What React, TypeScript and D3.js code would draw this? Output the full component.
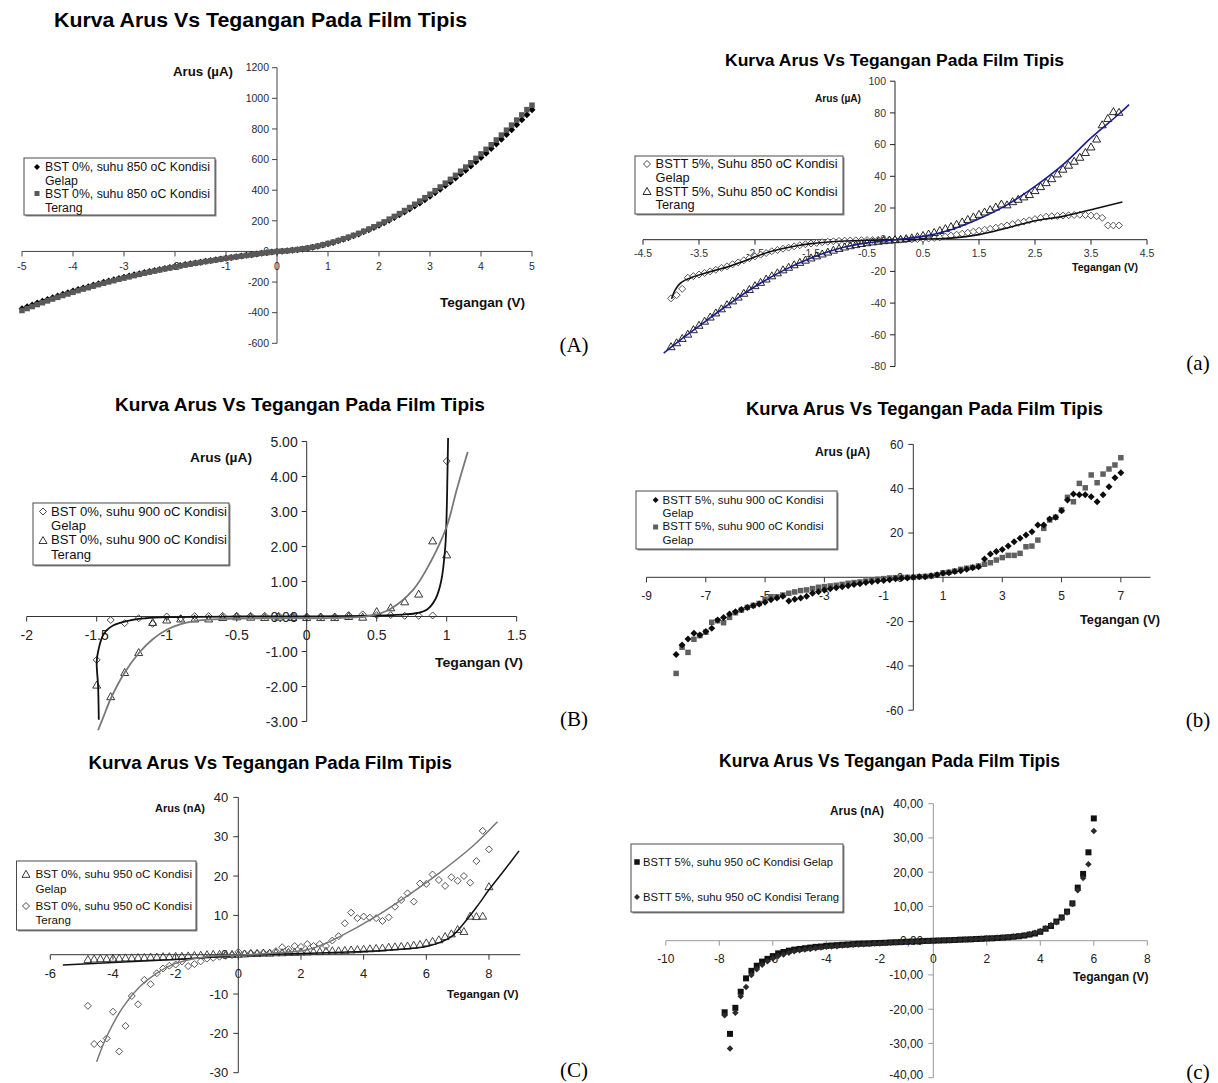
import React from "react";
import * as d3 from "d3";

const SANS = "'Liberation Sans', Arial, Helvetica, sans-serif";
const SERIF = "'Liberation Serif', 'Times New Roman', Times, serif";
const TITLE = "Kurva Arus Vs Tegangan Pada Film Tipis";

// ---------------- Panel A : BST 0%, 850 oC ----------------
const A_V = [-5,-4.9,-4.8,-4.7,-4.6,-4.5,-4.4,-4.3,-4.2,-4.1,-4,-3.9,-3.8,-3.7,-3.6,-3.5,-3.4,-3.3,-3.2,-3.1,-3,-2.9,-2.8,-2.7,-2.6,-2.5,-2.4,-2.3,-2.2,-2.1,-2,-1.9,-1.8,-1.7,-1.6,-1.5,-1.4,-1.3,-1.2,-1.1,-1,-0.9,-0.8,-0.7,-0.6,-0.5,-0.4,-0.3,-0.2,-0.1,0,0.1,0.2,0.3,0.4,0.5,0.6,0.7,0.8,0.9,1,1.1,1.2,1.3,1.4,1.5,1.6,1.7,1.8,1.9,2,2.1,2.2,2.3,2.4,2.5,2.6,2.7,2.8,2.9,3,3.1,3.2,3.3,3.4,3.5,3.6,3.7,3.8,3.9,4,4.1,4.2,4.3,4.4,4.5,4.6,4.7,4.8,4.9,5];
const A_GELAP = [-375,-362,-350,-337,-325,-314,-302,-291,-280,-270,-259,-249,-239,-230,-220,-211,-202,-193,-185,-177,-169,-161,-153,-146,-138,-131,-124,-118,-111,-105,-98,-92,-86,-81,-75,-70,-64,-59,-54,-49,-44,-39,-34,-30,-25,-21,-17,-12,-8,-4,0,2,4,7,11,16,21,27,34,42,50,59,69,79,90,102,114,128,141,156,171,187,204,221,239,258,277,297,317,338,360,383,406,430,454,479,505,531,558,586,614,642,672,702,732,763,795,827,860,893,925];
const A_TERANG = [-386,-373,-360,-347,-335,-323,-311,-300,-288,-278,-267,-256,-246,-237,-227,-217,-208,-199,-191,-182,-174,-166,-158,-150,-142,-135,-128,-121,-114,-108,-101,-95,-89,-83,-77,-72,-66,-61,-56,-50,-45,-40,-35,-31,-26,-22,-17,-12,-8,-4,0,2,4,8,12,17,22,28,35,43,52,61,71,82,93,105,118,132,146,161,177,193,211,229,247,267,287,308,329,351,374,397,421,446,471,497,524,551,579,608,637,667,697,728,760,792,825,858,892,926,955];
const A_XTICKS = [-5,-4,-3,-2,-1,0,1,2,3,4,5];
const A_YTICKS = [-600,-400,-200,0,200,400,600,800,1000,1200];

// ---------------- Panel a : BSTT 5%, 850 oC ----------------
const a_V = [-4,-3.9,-3.8,-3.7,-3.6,-3.5,-3.4,-3.3,-3.2,-3.1,-3,-2.9,-2.8,-2.7,-2.6,-2.5,-2.4,-2.3,-2.2,-2.1,-2,-1.9,-1.8,-1.7,-1.6,-1.5,-1.4,-1.3,-1.2,-1.1,-1,-0.9,-0.8,-0.7,-0.6,-0.5,-0.4,-0.3,-0.2,-0.1,0,0.1,0.2,0.3,0.4,0.5,0.6,0.7,0.8,0.9,1,1.1,1.2,1.3,1.4,1.5,1.6,1.7,1.8,1.9,2,2.1,2.2,2.3,2.4,2.5,2.6,2.7,2.8,2.9,3,3.1,3.2,3.3,3.4,3.5,3.6,3.7,3.8,3.9,4];
const a_GELAP = [-37,-35,-31,-24,-23,-22,-21,-20,-19,-17.8,-16.8,-15.5,-14.3,-13,-11.7,-10.5,-9.4,-8.4,-7.3,-6.5,-5.7,-5,-4.2,-3.5,-2.9,-2.4,-2,-1.6,-1.3,-1,-0.8,-0.6,-0.5,-0.4,-0.3,-0.2,-0.2,-0.1,-0.1,0,0,0,0.1,0.2,0.4,0.6,0.8,1.1,1.5,2,2.6,3.2,3.8,4.4,5.1,5.7,6.3,6.9,7.6,8.3,9,9.8,10.6,11.4,12.2,13,13.8,14.5,14.8,15,15.2,15.4,15.6,15.8,15.6,15.2,14.8,13.8,9,9,9];
const a_TERANG = [-67.5,-65,-62.3,-59.6,-56.8,-54,-51.4,-48.8,-46.2,-43.6,-41,-38.6,-36.2,-33.8,-31.4,-29,-26.9,-24.8,-22.8,-20.9,-19,-17.4,-15.8,-14.3,-12.9,-11.5,-10.2,-9,-7.8,-6.6,-5.5,-4.6,-3.8,-3.1,-2.4,-1.9,-1.4,-1,-0.6,-0.3,0,0.3,0.7,1.2,1.9,2.7,3.6,4.6,5.8,7,8.3,9.7,11.2,12.8,14.4,16,17.5,19,20.6,22.5,22,24,25.5,27,28.5,31,33.5,36,38.5,41.5,44.5,47,49.5,52,55,58.5,63.5,72.5,76.5,80.8,80.4];
const a_FIT_G_X = [-3.99,-3.93,-3.85,-3.75,-3.6,-3.4,-3.2,-3,-2.75,-2.5,-2.25,-2,-1.75,-1.5,-1.25,-1,-0.5,0,0.5,1,1.5,2,2.5,3,3.5,4.06];
const a_FIT_G_Y = [-37.2,-32,-28,-25.5,-23.3,-21.2,-19.2,-17.3,-14.2,-10.8,-7.8,-5.6,-3.8,-2.5,-1.6,-1,-0.3,0,0.3,1,3.2,7.4,12,14.7,18.9,23.8];
const a_FIT_T_X = [-4.13,-3.75,-3.5,-3,-2.5,-2,-1.5,-1,-0.5,0,0.5,1,1.5,2,2.5,3,3.5,4,4.18];
const a_FIT_T_Y = [-71.5,-61,-54.5,-41.5,-29.5,-19.5,-11.5,-5.5,-2,0,2.1,6.3,13.2,22,33.6,47.3,64.2,79.3,85.2];
const a_XTICKS = [-4.5,-3.5,-2.5,-1.5,-0.5,0.5,1.5,2.5,3.5,4.5];
const a_YTICKS = [-80,-60,-40,-20,0,20,40,60,80,100];

// ---------------- Panel B : BST 0%, 900 oC ----------------
const B_V = [-1.5,-1.4,-1.3,-1.2,-1.1,-1,-0.9,-0.8,-0.7,-0.6,-0.5,-0.4,-0.3,-0.2,-0.1,0,0.1,0.2,0.3,0.4,0.5,0.6,0.7,0.8,0.9,1];
const B_GELAP = [-1.24,-0.1,-0.19,-0.05,-0.21,0,-0.05,0.01,0.01,0.02,0.02,0.02,0.02,0.02,0.02,0,0,0,0.04,0.06,0.04,0.04,0.02,0.02,0.03,4.44];
const B_TERANG = [-1.96,-2.29,-1.6,-1.03,-0.17,-0.1,-0.07,-0.07,-0.07,-0.03,-0.01,-0.02,-0.03,-0.02,-0.03,-0.03,-0.03,-0.03,0,-0.02,0.14,0.25,0.42,0.64,2.16,1.76];
const B_FIT_G_X = [-1.485,-1.49,-1.5,-1.49,-1.45,-1.38,-1.25,-1.15,-1,-0.5,0,0.4,0.6,0.7,0.79,0.86,0.92,0.96,0.99,1,1.005,1.01];
const B_FIT_G_Y = [-2.95,-2,-1.3,-1,-0.5,-0.25,-0.1,-0.05,-0.02,0,0,0.02,0.04,0.06,0.1,0.2,0.5,1,2,3,4,5.1];
const B_FIT_T_X = [-1.49,-1.45,-1.4,-1.3,-1.2,-1.1,-1,-0.9,-0.8,-0.6,-0.3,0,0.2,0.4,0.5,0.6,0.76,0.88,1,1.07,1.15];
const B_FIT_T_Y = [-3.25,-2.85,-2.35,-1.6,-1.05,-0.65,-0.38,-0.22,-0.13,-0.07,-0.05,-0.05,-0.04,-0.01,0.06,0.22,0.76,1.52,2.57,3.6,4.7];
const B_XTICKS = [-2,-1.5,-1,-0.5,0,0.5,1,1.5];
const B_YTICKS = [-3,-2,-1,0,1,2,3,4,5];

// ---------------- Panel b : BSTT 5%, 900 oC ----------------
const b_V = [-8,-7.8,-7.6,-7.4,-7.2,-7,-6.8,-6.6,-6.4,-6.2,-6,-5.8,-5.6,-5.4,-5.2,-5,-4.8,-4.6,-4.4,-4.2,-4,-3.8,-3.6,-3.4,-3.2,-3,-2.8,-2.6,-2.4,-2.2,-2,-1.8,-1.6,-1.4,-1.2,-1,-0.8,-0.6,-0.4,-0.2,0,0.2,0.4,0.6,0.8,1,1.2,1.4,1.6,1.8,2,2.2,2.4,2.6,2.8,3,3.2,3.4,3.6,3.8,4,4.2,4.4,4.6,4.8,5,5.2,5.4,5.6,5.8,6,6.2,6.4,6.6,6.8,7];
const b_GELAP1 = [-34.8,-30.6,-27.9,-25.3,-26,-24.5,-23,-19.3,-18.1,-16.6,-15.5,-14.5,-13.6,-12.8,-12,-11.3,-10.1,-9.3,-8.6,-10.7,-9.9,-9.3,-8.5,-7.2,-6.5,-5.7,-5.2,-4.7,-4.3,-3.8,-3.2,-2.9,-2.4,-2,-1.7,-1.4,-1.1,-0.7,-0.4,-0.3,0,0.2,0.3,0.7,1.1,1.8,2.1,2.6,3,3.6,4.3,4.8,8.3,10.5,11.7,12.6,14.1,16.1,17.6,19.1,20.6,23.6,23.6,26.3,27.1,30.1,34.9,37.6,37.3,37.3,36.4,34.1,37.3,40.9,45,47.2];
const b_GELAP2 = [-43.4,-31.6,-33.9,-28,-26.3,-24.8,-20.3,-19.6,-20.5,-18.1,-16,-14.8,-13.6,-12.7,-11.8,-9.9,-8.8,-8.8,-8,-7.2,-6.6,-6,-5.7,-5.1,-4.5,-4.2,-3.9,-3.6,-3.2,-2.7,-2.4,-2.1,-1.7,-1.2,-0.9,-0.6,-0.3,-0.2,-0.1,0,0,0.3,0.4,0.6,1.1,2,2.3,2.8,3.6,4.1,4.5,5.1,5.9,6.6,7.8,8.9,9.9,9.9,10.8,13.8,14.1,16.8,22.1,25.9,27.1,30.4,36.1,34.1,42.4,40.4,46.2,42.7,46.6,48.9,50.7,54];
const b_XTICKS = [-9,-7,-5,-3,-1,1,3,5,7];
const b_YTICKS = [-60,-40,-20,0,20,40,60];

// ---------------- Panel C : BST 0%, 950 oC ----------------
const C_V = [-4.8,-4.6,-4.4,-4.2,-4,-3.8,-3.6,-3.4,-3.2,-3,-2.8,-2.6,-2.4,-2.2,-2,-1.8,-1.6,-1.4,-1.2,-1,-0.8,-0.6,-0.4,-0.2,0,0.2,0.4,0.6,0.8,1,1.2,1.4,1.6,1.8,2,2.2,2.4,2.6,2.8,3,3.2,3.4,3.6,3.8,4,4.2,4.4,4.6,4.8,5,5.2,5.4,5.6,5.8,6,6.2,6.4,6.6,6.8,7,7.2,7.4,7.6,7.8,8];
const C_GELAP = [-1.2,-1.1,-1,-1,-0.9,-0.9,-0.8,-0.8,-0.7,-0.7,-0.6,-0.6,-0.5,-0.5,-0.4,-0.4,-0.3,-0.2,-0.1,0,0.1,0.1,0.1,0.1,0.1,0.2,0.3,0.3,0.4,0.4,0.5,0.5,0.6,0.6,0.7,0.7,0.8,0.8,0.9,1,1,1.1,1.2,1.3,1.4,1.5,1.6,1.7,1.9,2,2.1,2.2,2.4,2.6,3,3.4,3.8,4.6,5.3,6.4,5.9,9.8,9.7,9.8,17.3];
const C_TERANG = [-13,-22.7,-22.7,-21.3,-14.5,-24.6,-18.1,-10.5,-12.6,-6.4,-7.5,-4.7,-3.5,-2.8,-2.5,-1.7,-2.9,-2.4,-1.7,-1,-0.8,-0.5,-0.3,-0.1,0.7,0.3,0.4,0.4,0.5,0.5,0.9,1.9,1.4,2.2,2,2.7,2.2,2.7,2.2,3.6,4.7,8,10.7,9.3,9.7,9.4,9.3,8.6,9.5,12.2,13.9,15.6,13.5,18.1,18,20.4,19,17.5,19.7,18.8,20,18.3,23.8,31.5,26.8];
const C_FIT_G_X = [-5.6,-4,-2,0,2,3.24,4.5,5.36,6,6.4,6.8,7.2,7.65,8,8.5,8.96];
const C_FIT_G_Y = [-2.6,-2,-1.2,-0.2,0.3,0.6,1,1.5,2.1,3,4.6,8,12.6,16.5,21.6,26.4];
const C_FIT_T_X = [-4.52,-4.2,-3.67,-3.14,-2.6,-2.07,-1.54,-1,0,1.1,2.17,2.7,3.24,4.3,5.36,6.4,7.47,8.27];
const C_FIT_T_Y = [-27.2,-20.8,-13.2,-8.1,-4.7,-2.4,-1.2,-0.5,-0.1,0.4,1.2,2.6,4.6,9.3,14.8,20.7,27.5,33.8];
const C_XTICKS = [-6,-4,-2,0,2,4,6,8];
const C_YTICKS = [-30,-20,-10,0,10,20,30,40];

// ---------------- Panel c : BSTT 5%, 950 oC ----------------
const c_V = [-7.8,-7.6,-7.4,-7.2,-7,-6.8,-6.6,-6.4,-6.2,-6,-5.8,-5.6,-5.4,-5.2,-5,-4.8,-4.6,-4.4,-4.2,-4,-3.8,-3.6,-3.4,-3.2,-3,-2.8,-2.6,-2.4,-2.2,-2,-1.8,-1.6,-1.4,-1.2,-1,-0.8,-0.6,-0.4,-0.2,0,0.2,0.4,0.6,0.8,1,1.2,1.4,1.6,1.8,2,2.2,2.4,2.6,2.8,3,3.2,3.4,3.6,3.8,4,4.2,4.4,4.6,4.8,5,5.2,5.4,5.6,5.8,6];
const c_GELAP = [-20.9,-27.2,-19.6,-14.9,-11,-8.8,-7.3,-6.1,-5.3,-4.5,-3.7,-3.3,-2.9,-2.6,-2.4,-2.2,-2,-1.8,-1.7,-1.5,-1.4,-1.3,-1.2,-1.1,-1,-0.9,-0.85,-0.8,-0.7,-0.65,-0.6,-0.5,-0.45,-0.4,-0.3,-0.25,-0.2,-0.1,-0.05,0,0.05,0.1,0.15,0.2,0.3,0.35,0.4,0.5,0.55,0.65,0.7,0.8,0.9,1,1.15,1.3,1.5,1.8,2.1,2.6,3.5,4.3,5.6,6.8,8.5,10.9,15.5,19.5,25.8,35.7];
const c_TERANG = [-21.8,-31.5,-21,-16.2,-13.5,-10,-8.3,-7,-6,-5.2,-4.5,-4,-3.5,-3.1,-2.8,-2.6,-2.4,-2.2,-2,-1.8,-1.7,-1.6,-1.4,-1.3,-1.2,-1.1,-1,-0.95,-0.85,-0.8,-0.7,-0.6,-0.55,-0.45,-0.4,-0.3,-0.25,-0.15,-0.1,0,0.05,0.1,0.15,0.2,0.3,0.35,0.45,0.5,0.6,0.7,0.75,0.85,0.95,1.05,1.2,1.4,1.6,1.9,2.3,2.8,3.6,4.6,5.4,6.6,8.2,10.7,14.7,18.3,22.3,32];
const c_XTICKS = [-10,-8,-6,-4,-2,0,2,4,6,8];
const c_YTICKS = [-40,-30,-20,-10,0,10,20,30,40];

// ---------------- types & helpers ----------------
type Marker = "diamond" | "square" | "triangle";
type Series = { xs: number[]; ys: number[]; marker: Marker; size: number; fill: string; stroke: string; sw: number };
type Curve = { xs: number[]; ys: number[]; color: string; width: number };
type LegendItem = { marker: Marker; size: number; fill: string; stroke: string; sw: number; lines: string[]; baselines: number[]; my: number; tw: number };
type TextSpec = { text: string; x0: number; w: number; base: number; size: number };
type PanelSpec = {
  xDomain: [number, number]; xRange: [number, number];
  yDomain: [number, number]; yRange: [number, number];
  xTicks: number[]; yTicks: number[];
  xFmt: (v: number) => string; yFmt: (v: number) => string;
  tickFont: number; tickColor: string; axisColor: string; tickLen: number;
  xLabelDy: number; yLabelDx: number;
  title: TextSpec; yTitle: TextSpec; xTitle: TextSpec;
  legend: { x0: number; y0: number; x1: number; y1: number; textX: number; markerX: number; font: number; items: LegendItem[] };
  tag: { text: string; cx: number; base: number; size: number };
  series: Series[]; curves: Curve[];
};

function markerPath(m: Marker, s: number): string {
  const r = s / 2;
  if (m === "diamond") return `M0,${-r}L${r},0L0,${r}L${-r},0Z`;
  if (m === "square") return `M${-r},${-r}H${r}V${r}H${-r}Z`;
  return `M0,${-r}L${r},${r * 0.75}L${-r},${r * 0.75}Z`;
}

const plain = (v: number) => String(v);
const fix1 = (v: number) => v.toFixed(1);
const fix2 = (v: number) => v.toFixed(2);
const fix2c = (v: number) => v.toFixed(2).replace(".", ",");

function ChartPanel({ p }: { p: PanelSpec }) {
  const x = d3.scaleLinear().domain(p.xDomain).range(p.xRange);
  const y = d3.scaleLinear().domain(p.yDomain).range(p.yRange);
  const x0 = x(0);
  const y0 = y(0);
  const line = d3
    .line<[number, number]>()
    .x((d) => x(d[0]))
    .y((d) => y(d[1]))
    .curve(d3.curveCatmullRom.alpha(0.5));
  const lg = p.legend;
  return (
    <g fontFamily={SANS}>
      <text x={p.title.x0} y={p.title.base} fontSize={p.title.size} fontWeight="bold" textLength={p.title.w} lengthAdjust="spacingAndGlyphs" fill="#000">
        {p.title.text}
      </text>
      {/* axes */}
      <line x1={x(p.xDomain[0])} x2={x(p.xDomain[1])} y1={y0} y2={y0} stroke={p.axisColor} strokeWidth={1} />
      <line x1={x0} x2={x0} y1={y(p.yDomain[0])} y2={y(p.yDomain[1])} stroke={p.axisColor} strokeWidth={1} />
      {p.xTicks.map((v) => (
        <g key={"xt" + v}>
          <line x1={x(v)} x2={x(v)} y1={y0} y2={y0 + p.tickLen} stroke={p.axisColor} strokeWidth={1} />
          <text x={x(v)} y={y0 + p.xLabelDy} fontSize={p.tickFont} textAnchor="middle" fill={p.tickColor}>
            {p.xFmt(v)}
          </text>
        </g>
      ))}
      {p.yTicks.map((v) => (
        <g key={"yt" + v}>
          <line x1={x0 - p.tickLen} x2={x0} y1={y(v)} y2={y(v)} stroke={p.axisColor} strokeWidth={1} />
          <text x={x0 + p.yLabelDx} y={Math.min(y(v) + p.tickFont * 0.36, 1078.5)} fontSize={p.tickFont} textAnchor="end" fill={p.tickColor}>
            {p.yFmt(v)}
          </text>
        </g>
      ))}
      {/* axis titles */}
      {[p.yTitle, p.xTitle].map((t) => (
        <text key={t.text} x={t.x0} y={t.base} fontSize={t.size} fontWeight="bold" textLength={t.w} lengthAdjust="spacingAndGlyphs" fill="#111">
          {t.text}
        </text>
      ))}
      {/* markers */}
      {p.series.map((s, si) => (
        <g key={"s" + si}>
          {s.xs.slice(0, Math.min(s.xs.length, s.ys.length)).map((v, i) => (
            <path
              key={i}
              d={markerPath(s.marker, s.size)}
              transform={`translate(${x(v)},${y(s.ys[i])})`}
              fill={s.fill}
              stroke={s.stroke}
              strokeWidth={s.sw}
            />
          ))}
        </g>
      ))}
      {/* fitted curves */}
      {p.curves.map((c, ci) => (
        <path
          key={"c" + ci}
          d={line(c.xs.map((v, i) => [v, c.ys[i]] as [number, number])) || ""}
          fill="none"
          stroke={c.color}
          strokeWidth={c.width}
        />
      ))}
      {/* legend */}
      <rect x={lg.x0 + 1.5} y={lg.y0 + 1.5} width={lg.x1 - lg.x0} height={lg.y1 - lg.y0} fill="#8a8a8a" />
      <rect x={lg.x0} y={lg.y0} width={lg.x1 - lg.x0} height={lg.y1 - lg.y0} fill="#fff" stroke="#4a4a4a" strokeWidth={1} />
      {lg.items.map((it, ii) => (
        <g key={"l" + ii}>
          <path d={markerPath(it.marker, it.size)} transform={`translate(${lg.markerX},${it.my})`} fill={it.fill} stroke={it.stroke} strokeWidth={it.sw} />
          {it.lines.map((ln, li) =>
            li === 0 ? (
              <text key={li} x={lg.textX} y={it.baselines[li]} fontSize={lg.font} textLength={it.tw} lengthAdjust="spacingAndGlyphs" fill="#111">
                {ln}
              </text>
            ) : (
              <text key={li} x={lg.textX} y={it.baselines[li]} fontSize={lg.font} fill="#111">
                {ln}
              </text>
            )
          )}
        </g>
      ))}
      <text x={p.tag.cx} y={p.tag.base} fontSize={p.tag.size} fontFamily={SERIF} textAnchor="middle" fill="#000">
        {p.tag.text}
      </text>
    </g>
  );
}

// ---------------- panel specs ----------------
const panelA: PanelSpec = {
  xDomain: [-5, 5], xRange: [22, 532],
  yDomain: [-600, 1200], yRange: [343.3, 67.7],
  xTicks: A_XTICKS, yTicks: A_YTICKS, xFmt: plain, yFmt: plain,
  tickFont: 10.5, tickColor: "#2a2a2a", axisColor: "#444", tickLen: 5,
  xLabelDy: 18.5, yLabelDx: -8,
  title: { text: TITLE, x0: 54, w: 413, base: 27, size: 20 },
  yTitle: { text: "Arus (µA)", x0: 173, w: 60, base: 76, size: 12 },
  xTitle: { text: "Tegangan (V)", x0: 440, w: 85, base: 307, size: 12 },
  legend: {
    x0: 24, y0: 158, x1: 215, y1: 215, textX: 45, markerX: 37, font: 12.3,
    items: [
      { marker: "diamond", size: 6, fill: "#000", stroke: "none", sw: 0, lines: ["BST 0%, suhu 850 oC Kondisi", "Gelap"], baselines: [171, 185], my: 167, tw: 165 },
      { marker: "square", size: 5, fill: "#595959", stroke: "none", sw: 0, lines: ["BST 0%, suhu 850 oC Kondisi", "Terang"], baselines: [198, 212], my: 193.5, tw: 165 },
    ],
  },
  tag: { text: "(A)", cx: 574, base: 352, size: 21 },
  series: [
    { xs: A_V, ys: A_GELAP, marker: "diamond", size: 7, fill: "#000", stroke: "none", sw: 0 },
    { xs: A_V, ys: A_TERANG, marker: "square", size: 5.5, fill: "#595959", stroke: "none", sw: 0 },
  ],
  curves: [],
};

const panela: PanelSpec = {
  xDomain: [-4.5, 4.5], xRange: [643, 1147],
  yDomain: [-80, 100], yRange: [366.5, 81.2],
  xTicks: a_XTICKS, yTicks: a_YTICKS, xFmt: fix1, yFmt: plain,
  tickFont: 10.5, tickColor: "#333", axisColor: "#222", tickLen: 5,
  xLabelDy: 17, yLabelDx: -9,
  title: { text: TITLE, x0: 725, w: 339, base: 65.5, size: 16 },
  yTitle: { text: "Arus (µA)", x0: 815, w: 46, base: 101.5, size: 10 },
  xTitle: { text: "Tegangan (V)", x0: 1072, w: 66, base: 271, size: 10 },
  legend: {
    x0: 635, y0: 156, x1: 843, y1: 214, textX: 655.6, markerX: 647, font: 12.8,
    items: [
      { marker: "diamond", size: 7, fill: "#fff", stroke: "#333", sw: 0.9, lines: ["BSTT 5%, Suhu 850 oC Kondisi", "Gelap"], baselines: [168, 181.5], my: 164, tw: 182 },
      { marker: "triangle", size: 8, fill: "#fff", stroke: "#111", sw: 0.9, lines: ["BSTT 5%, Suhu 850 oC Kondisi", "Terang"], baselines: [195.5, 209], my: 191.5, tw: 182 },
    ],
  },
  tag: { text: "(a)", cx: 1198, base: 370, size: 21 },
  series: [
    { xs: a_V, ys: a_GELAP, marker: "diamond", size: 7, fill: "#fff", stroke: "#444", sw: 0.9 },
    { xs: a_V, ys: a_TERANG, marker: "triangle", size: 8, fill: "none", stroke: "#111", sw: 0.9 },
  ],
  curves: [
    { xs: a_FIT_G_X, ys: a_FIT_G_Y, color: "#111", width: 1.6 },
    { xs: a_FIT_T_X, ys: a_FIT_T_Y, color: "#1c1c8c", width: 1.6 },
  ],
};

const panelB: PanelSpec = {
  xDomain: [-2, 1.5], xRange: [26.7, 516.7],
  yDomain: [-3, 5], yRange: [721.5, 441.5],
  xTicks: B_XTICKS, yTicks: B_YTICKS, xFmt: plain, yFmt: fix2,
  tickFont: 14, tickColor: "#222", axisColor: "#333", tickLen: 5,
  xLabelDy: 23.5, yLabelDx: -9,
  title: { text: TITLE, x0: 115, w: 370, base: 411, size: 18 },
  yTitle: { text: "Arus (µA)", x0: 190, w: 62, base: 462, size: 13 },
  xTitle: { text: "Tegangan (V)", x0: 435, w: 88, base: 667, size: 13 },
  legend: {
    x0: 33, y0: 503, x1: 229, y1: 565, textX: 51, markerX: 43, font: 13.1,
    items: [
      { marker: "diamond", size: 7, fill: "#fff", stroke: "#333", sw: 0.9, lines: ["BST 0%, suhu 900 oC Kondisi", "Gelap"], baselines: [515.5, 530], my: 511.5, tw: 176 },
      { marker: "triangle", size: 8, fill: "#fff", stroke: "#222", sw: 0.9, lines: ["BST 0%, suhu 900 oC Kondisi", "Terang"], baselines: [544, 559], my: 540.5, tw: 176 },
    ],
  },
  tag: { text: "(B)", cx: 574, base: 726, size: 21 },
  series: [
    { xs: B_V, ys: B_GELAP, marker: "diamond", size: 7, fill: "none", stroke: "#333", sw: 0.9 },
    { xs: B_V, ys: B_TERANG, marker: "triangle", size: 8, fill: "none", stroke: "#222", sw: 0.9 },
  ],
  curves: [
    { xs: B_FIT_G_X, ys: B_FIT_G_Y, color: "#111", width: 1.8 },
    { xs: B_FIT_T_X, ys: B_FIT_T_Y, color: "#787878", width: 1.8 },
  ],
};

const panelb: PanelSpec = {
  xDomain: [-9, 8], xRange: [646.5, 1150.5],
  yDomain: [-60, 60], yRange: [710.2, 444.4],
  xTicks: b_XTICKS, yTicks: b_YTICKS, xFmt: plain, yFmt: plain,
  tickFont: 12, tickColor: "#222", axisColor: "#333", tickLen: 5,
  xLabelDy: 22.5, yLabelDx: -10,
  title: { text: TITLE, x0: 746, w: 357, base: 415, size: 18 },
  yTitle: { text: "Arus (µA)", x0: 815, w: 55, base: 456, size: 12.5 },
  xTitle: { text: "Tegangan (V)", x0: 1080, w: 80, base: 624, size: 12.5 },
  legend: {
    x0: 636, y0: 491, x1: 837, y1: 549, textX: 662.6, markerX: 655.6, font: 11.5,
    items: [
      { marker: "diamond", size: 6, fill: "#0d0d0d", stroke: "none", sw: 0, lines: ["BSTT 5%, suhu 900 oC Kondisi", "Gelap"], baselines: [503.5, 517], my: 500, tw: 161 },
      { marker: "square", size: 5, fill: "#606060", stroke: "none", sw: 0, lines: ["BSTT 5%, suhu 900 oC Kondisi", "Gelap"], baselines: [530, 544], my: 527, tw: 161 },
    ],
  },
  tag: { text: "(b)", cx: 1198, base: 727, size: 21 },
  series: [
    { xs: b_V, ys: b_GELAP2, marker: "square", size: 5.5, fill: "#606060", stroke: "none", sw: 0 },
    { xs: b_V, ys: b_GELAP1, marker: "diamond", size: 7, fill: "#0d0d0d", stroke: "none", sw: 0 },
  ],
  curves: [],
};

const panelC: PanelSpec = {
  xDomain: [-6, 9], xRange: [50.3, 520.3],
  yDomain: [-30, 40], yRange: [1072.7, 797.4],
  xTicks: C_XTICKS, yTicks: C_YTICKS, xFmt: plain, yFmt: plain,
  tickFont: 13, tickColor: "#222", axisColor: "#333", tickLen: 5,
  xLabelDy: 23, yLabelDx: -10,
  title: { text: TITLE, x0: 88.5, w: 363.5, base: 769, size: 19 },
  yTitle: { text: "Arus (nA)", x0: 155, w: 50, base: 812, size: 11.5 },
  xTitle: { text: "Tegangan (V)", x0: 447, w: 71.5, base: 997.5, size: 11.5 },
  legend: {
    x0: 16.5, y0: 861, x1: 196, y1: 930, textX: 35.4, markerX: 26, font: 11.6,
    items: [
      { marker: "triangle", size: 8, fill: "#fff", stroke: "#222", sw: 0.9, lines: ["BST 0%, suhu 950 oC Kondisi", "Gelap"], baselines: [878, 892.5], my: 874.3, tw: 156.6 },
      { marker: "diamond", size: 7, fill: "#fff", stroke: "#333", sw: 0.9, lines: ["BST 0%, suhu 950 oC Kondisi", "Terang"], baselines: [909.5, 924], my: 906, tw: 156.6 },
    ],
  },
  tag: { text: "(C)", cx: 574, base: 1077, size: 21 },
  series: [
    { xs: C_V, ys: C_GELAP, marker: "triangle", size: 8, fill: "none", stroke: "#333", sw: 0.9 },
    { xs: C_V, ys: C_TERANG, marker: "diamond", size: 7, fill: "none", stroke: "#444", sw: 0.9 },
  ],
  curves: [
    { xs: C_FIT_G_X, ys: C_FIT_G_Y, color: "#111", width: 1.5 },
    { xs: C_FIT_T_X, ys: C_FIT_T_Y, color: "#777", width: 1.5 },
  ],
};

const panelc: PanelSpec = {
  xDomain: [-10, 8], xRange: [665.8, 1147.3],
  yDomain: [-40, 40], yRange: [1077.7, 803.7],
  xTicks: c_XTICKS, yTicks: c_YTICKS, xFmt: plain, yFmt: fix2c,
  tickFont: 12, tickColor: "#222", axisColor: "#999", tickLen: 5,
  xLabelDy: 22.6, yLabelDx: -10,
  title: { text: TITLE, x0: 719, w: 341, base: 766.5, size: 18 },
  yTitle: { text: "Arus (nA)", x0: 830, w: 54, base: 815, size: 12 },
  xTitle: { text: "Tegangan (V)", x0: 1073, w: 75.5, base: 981, size: 12 },
  legend: {
    x0: 631, y0: 844, x1: 843, y1: 912, textX: 643, markerX: 637, font: 11.2,
    items: [
      { marker: "square", size: 5.5, fill: "#111", stroke: "none", sw: 0, lines: ["BSTT 5%, suhu 950 oC Kondisi Gelap"], baselines: [866], my: 862, tw: 190 },
      { marker: "diamond", size: 6, fill: "#2a2a2a", stroke: "none", sw: 0, lines: ["BSTT 5%, suhu 950 oC Kondisi Terang"], baselines: [900.5], my: 897, tw: 196 },
    ],
  },
  tag: { text: "(c)", cx: 1198, base: 1079, size: 21 },
  series: [
    { xs: c_V, ys: c_GELAP, marker: "square", size: 6, fill: "#111", stroke: "none", sw: 0 },
    { xs: c_V, ys: c_TERANG, marker: "diamond", size: 6.5, fill: "#2a2a2a", stroke: "none", sw: 0 },
  ],
  curves: [],
};

const PANELS = [panelA, panela, panelB, panelb, panelC, panelc];

export default function App() {
  return (
    <svg
      width={1218}
      height={1083}
      viewBox="0 0 1218 1083"
      style={{ position: "absolute", left: 0, top: 0, background: "#fff" }}
    >
      <rect x={0} y={0} width={1218} height={1083} fill="#fff" />
      {PANELS.map((p, i) => (
        <ChartPanel key={i} p={p} />
      ))}
    </svg>
  );
}
